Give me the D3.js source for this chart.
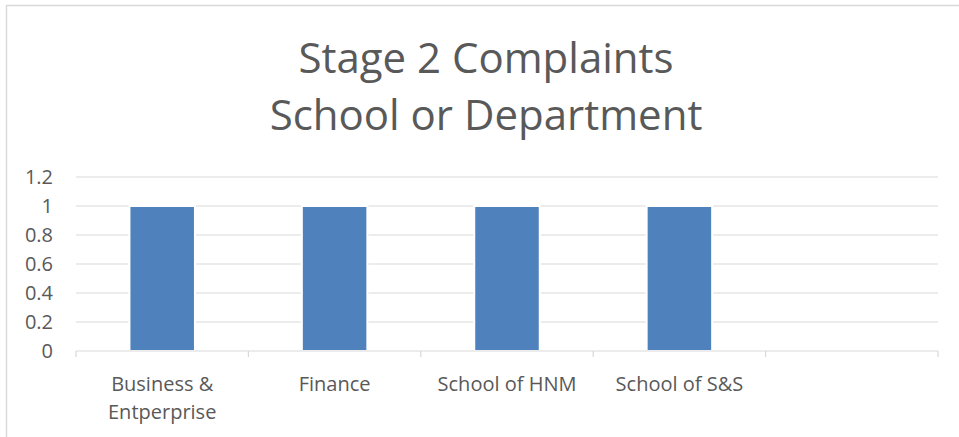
<!DOCTYPE html>
<html lang="en">
  <head>
    <meta charset="utf-8">
    <title>Stage 2 Complaints - School or Department</title>
    <style type="text/css">
body {
  margin: 0;
  background: #fff;
}
svg text {
  font-family: "Open Sans", "Liberation Sans", sans-serif;
  fill: #595959;
}
    </style>
  </head>

  <body>
    <div id="chart"></div>

    <script src="https://cdn.jsdelivr.net/npm/d3@7/dist/d3.min.js"></script>
    <script>
      // chart data
      var titleLines = ["Stage 2 Complaints", "School or Department"];
      var categories = ["Business & Entperprise", "Finance", "School of HNM", "School of S&S", ""];
      var values = [1, 1, 1, 1, null];
      var yTicks = [0, 0.2, 0.4, 0.6, 0.8, 1, 1.2];

      var width = 959, height = 437;
      var margin = {top: 177, right: 21, bottom: 86, left: 76};
      var plotW = width - margin.left - margin.right,
          plotH = height - margin.top - margin.bottom;

      var svg = d3.select("#chart").append("svg")
          .attr("width", width)
          .attr("height", height);

      // outer chart frame (only top and left edges are in view)
      svg.append("path")
          .attr("d", "M6.5," + height + "V5.5H" + width)
          .attr("fill", "none")
          .attr("stroke", "#d9d9d9")
          .attr("stroke-width", 1.5);

      svg.selectAll(".title")
        .data(titleLines)
        .enter().append("text")
          .attr("class", "title")
          .attr("x", 486)
          .attr("y", function(d, i) { return 73 + i * 57; })
          .attr("text-anchor", "middle")
          .style("font-size", "42px")
          .text(function(d) { return d; });

      var g = svg.append("g").attr("transform", "translate(" + margin.left + "," + margin.top + ")");

      var x = d3.scaleBand()
          .domain(d3.range(categories.length))
          .range([0, plotW])
          .padding(0);

      var y = d3.scaleLinear()
          .domain([0, 1.2])
          .range([plotH, 0]);

      // gridlines
      g.selectAll(".grid")
        .data(yTicks.slice(1))
        .enter().append("line")
          .attr("x1", 0)
          .attr("x2", plotW)
          .attr("y1", function(d) { return y(d); })
          .attr("y2", function(d) { return y(d); })
          .attr("stroke", "#d9d9d9")
          .attr("stroke-width", 1.2);

      // y axis labels
      g.selectAll(".ylab")
        .data(yTicks)
        .enter().append("text")
          .attr("x", -23)
          .attr("y", function(d) { return y(d); })
          .attr("dy", "0.35em")
          .attr("text-anchor", "end")
          .style("font-size", "20px")
          .text(function(d) { return d; });

      // bars
      var barW = x.bandwidth() * 0.38;
      g.selectAll(".bar")
        .data(values.filter(function(v) { return v != null; }))
        .enter().append("rect")
          .attr("x", function(d, i) { return x(i) + (x.bandwidth() - barW) / 2; })
          .attr("y", function(d) { return y(d); })
          .attr("width", barW)
          .attr("height", function(d) { return y(0) - y(d); })
          .attr("fill", "#4f81bd")
          .attr("stroke", "#fff")
          .attr("stroke-width", 2);

      // x axis
      var xAxis = g.append("g")
          .attr("transform", "translate(0," + plotH + ")");
      xAxis.append("line")
          .attr("x1", 0).attr("x2", plotW)
          .attr("stroke", "#d9d9d9").attr("stroke-width", 1.2);
      xAxis.selectAll(".tick")
        .data(d3.range(categories.length + 1))
        .enter().append("line")
          .attr("x1", function(d) { return d * x.step(); })
          .attr("x2", function(d) { return d * x.step(); })
          .attr("y1", 0).attr("y2", 6)
          .attr("stroke", "#d9d9d9").attr("stroke-width", 1.2);

      // category labels, wrapped like Excel does
      var lab = xAxis.selectAll(".xlab")
        .data(categories)
        .enter().append("text")
          .attr("x", function(d, i) { return x(i) + x.bandwidth() / 2; })
          .attr("y", 40)
          .attr("text-anchor", "middle")
          .style("font-size", "20px");

      lab.each(function(d) {
        var t = d3.select(this), words = d.split(" "), line = [], lines = [];
        var probe = t.append("tspan");
        words.forEach(function(w) {
          line.push(w);
          probe.text(line.join(" "));
          if (probe.node().getComputedTextLength() > 160 && line.length > 1) {
            line.pop();
            lines.push(line.join(" "));
            line = [w];
          }
        });
        lines.push(line.join(" "));
        probe.remove();
        lines.forEach(function(l, k) {
          t.append("tspan")
              .attr("x", t.attr("x"))
              .attr("dy", k ? 28 : 0)
              .text(l);
        });
      });
    </script>
  </body>
</html>
